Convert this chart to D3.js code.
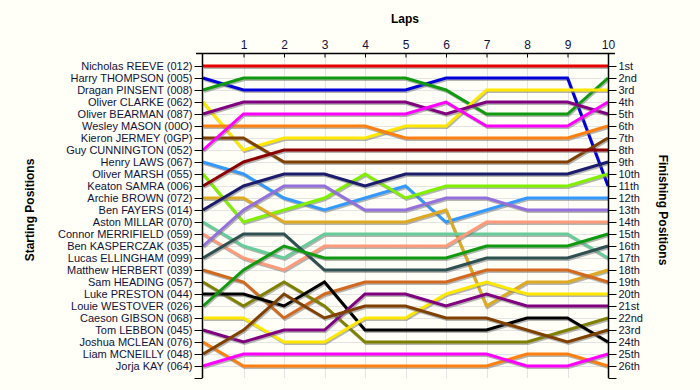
<!DOCTYPE html>
<html>
<head>
<meta charset="utf-8">
<script src="https://cdn.jsdelivr.net/npm/d3@7"></script>
<style>
  body { margin: 0; background: #fffff7; }
  svg { display: block; }
  text { font-family: "Liberation Sans", Arial, sans-serif; font-size: 11px; fill: #10103a; }
  .title { font-weight: bold; font-size: 12px; fill: #000; }
</style>
</head>
<body>
<svg id="chart" width="700" height="390"></svg>
<script>
// drivers in starting order
var drivers = ["Nicholas REEVE (012)", "Harry THOMPSON (005)", "Dragan PINSENT (008)", "Oliver CLARKE (062)",
  "Oliver BEARMAN (087)", "Wesley MASON (00O)", "Kieron JERMEY (0GP)", "Guy CUNNINGTON (052)",
  "Henry LAWS (067)", "Oliver MARSH (055)", "Keaton SAMRA (006)", "Archie BROWN (072)",
  "Ben FAYERS (014)", "Aston MILLAR (070)", "Connor MERRIFIELD (059)", "Ben KASPERCZAK (035)",
  "Lucas ELLINGHAM (099)", "Matthew HERBERT (039)", "Sam HEADING (057)", "Luke PRESTON (044)",
  "Louie WESTOVER (026)", "Caeson GIBSON (068)", "Tom LEBBON (045)", "Joshua MCLEAN (076)",
  "Liam MCNEILLY (048)", "Jorja KAY (064)"];

var lineColors = ["#e80000", "#0000d8", "#109a10", "#ffe800", "#800080", "#ff8010", "#804000", "#ff00ff",
  "#3399ff", "#80f000", "#8b0000", "#ddaa22", "#1c1c6c", "#66cc99", "#ff9a7a", "#9370db",
  "#2f5050", "#d2691e", "#808000", "#000000",
  "#109a10", "#ffe800", "#800080", "#ff8010", "#804000", "#ff00ff"];

var laps = [0, 1, 2, 3, 4, 5, 6, 7, 8, 9, 10];
var lapTicks = [1, 2, 3, 4, 5, 6, 7, 8, 9, 10];

// position of each driver after each lap (lap 0 = grid)
var positions = [
  [1, 1, 1, 1, 1, 1, 1, 1, 1, 1, 1],
  [2, 3, 3, 3, 3, 3, 2, 2, 2, 2, 11],
  [3, 2, 2, 2, 2, 2, 3, 5, 5, 5, 2],
  [4, 8, 7, 7, 7, 6, 6, 3, 3, 3, 3],
  [5, 4, 4, 4, 4, 4, 5, 4, 4, 4, 5],
  [6, 6, 6, 6, 6, 7, 7, 7, 7, 7, 6],
  [7, 7, 9, 9, 9, 9, 9, 9, 9, 9, 7],
  [8, 5, 5, 5, 5, 5, 4, 6, 6, 6, 4],
  [9, 10, 12, 13, 12, 11, 14, 13, 12, 12, 12],
  [10, 14, 13, 12, 10, 12, 11, 11, 11, 11, 10],
  [11, 9, 8, 8, 8, 8, 8, 8, 8, 8, 8],
  [12, 12, 14, 14, 14, 14, 13, 21, 19, 19, 18],
  [13, 11, 10, 10, 11, 10, 10, 10, 10, 10, 9],
  [14, 16, 17, 15, 15, 15, 15, 15, 15, 15, 17],
  [15, 17, 18, 16, 16, 16, 16, 14, 14, 14, 14],
  [16, 13, 11, 11, 13, 13, 12, 12, 13, 13, 13],
  [17, 15, 15, 18, 18, 18, 18, 17, 17, 17, 16],
  [18, 19, 22, 20, 19, 19, 19, 18, 18, 18, 19],
  [19, 21, 19, 21, 24, 24, 24, 24, 24, 23, 22],
  [20, 20, 21, 19, 23, 23, 23, 23, 22, 22, 24],
  [21, 18, 16, 17, 17, 17, 17, 16, 16, 16, 15],
  [22, 22, 24, 24, 22, 22, 20, 19, 20, 20, 20],
  [23, 24, 23, 23, 20, 20, 21, 20, 21, 21, 21],
  [24, 26, 26, 26, 26, 26, 26, 26, 25, 25, 26],
  [25, 23, 20, 22, 21, 21, 22, 22, 23, 24, 23],
  [26, 25, 25, 25, 25, 25, 25, 25, 26, 26, 25]
];

var finishLabels = ["1st", "2nd", "3rd", "4th", "5th", "6th", "7th", "8th", "9th", "10th", "11th", "12th", "13th",
  "14th", "15th", "16th", "17th", "18th", "19th", "20th", "21st", "22nd", "23rd", "24th", "25th", "26th"];

var svg = d3.select("#chart");
var plotLeft = 203, plotRight = 608, plotTop = 54;

var x = d3.scaleLinear().domain([0, 10]).range([plotLeft, plotRight]);
var y = d3.scaleLinear().domain([0, 27]).range([plotTop, plotTop + 27 * 12]);
var rows = d3.range(1, 27);

// grid
var grid = svg.append("g").attr("stroke", "#e4e4e4").attr("stroke-width", 1);
grid.selectAll("line.h").data(rows).enter().append("line")
  .attr("x1", plotLeft).attr("x2", plotRight)
  .attr("y1", function(d){ return Math.round(y(d)) + 0.5; })
  .attr("y2", function(d){ return Math.round(y(d)) + 0.5; });
grid.selectAll("line.v").data(lapTicks).enter().append("line")
  .attr("y1", plotTop).attr("y2", y(27))
  .attr("x1", function(d){ return Math.round(x(d)) + 0.5; })
  .attr("x2", function(d){ return Math.round(x(d)) + 0.5; });

// lines, shadow first
var line = d3.line()
  .x(function(d, i){ return x(laps[i]); })
  .y(function(d){ return y(d); });

var series = svg.append("g").attr("fill", "none").attr("stroke-linejoin", "miter");
positions.forEach(function(p, i) {
  series.append("path")
    .attr("d", line(p))
    .attr("transform", "translate(1,1.5)")
    .attr("stroke", "#777")
    .attr("stroke-opacity", 0.55)
    .attr("stroke-width", 3);
  series.append("path")
    .attr("d", line(p))
    .attr("stroke", lineColors[i])
    .attr("stroke-width", 3);
});

// axes
var topAxis = d3.axisTop(x).tickValues(lapTicks).tickSize(0).tickPadding(5).tickFormat(d3.format("d"));
var ta = svg.append("g").attr("transform", "translate(0," + (plotTop - 0.5) + ")").call(topAxis);
ta.select(".domain").remove();
ta.append("line").attr("x1", plotLeft - 7).attr("x2", plotRight + 7).attr("stroke", "#000").attr("stroke-width", 1.5);
ta.selectAll(".tick").append("line").attr("y1", 0).attr("y2", 4).attr("stroke", "#000");

var leftAxis = d3.axisLeft(y).tickValues(rows.concat([27]))
  .tickSize(8).tickPadding(2)
  .tickFormat(function(d){ return drivers[d - 1] || ""; });
var la = svg.append("g").attr("transform", "translate(" + (plotLeft - 0.5) + ",0)").call(leftAxis);
la.select(".domain").remove();
la.append("line").attr("y1", plotTop - 1).attr("y2", y(27)).attr("stroke", "#000").attr("stroke-width", 1.5);

var rightAxis = d3.axisRight(y).tickValues(rows.concat([27]))
  .tickSize(8).tickPadding(2)
  .tickFormat(function(d){ return finishLabels[d - 1] || ""; });
var ra = svg.append("g").attr("transform", "translate(" + (plotRight + 0.5) + ",0)").call(rightAxis);
ra.select(".domain").remove();
ra.append("line").attr("y1", plotTop - 1).attr("y2", y(27)).attr("stroke", "#000").attr("stroke-width", 1.5);

svg.selectAll(".tick text").style("font-family", "'Liberation Sans', Arial, sans-serif").style("font-size", "11px").attr("fill", "#10103a");
ta.selectAll(".tick text").style("font-size", "12px").attr("fill", "#000");
svg.selectAll(".tick line").attr("stroke", "#000");

// titles
svg.append("text").attr("class", "title").attr("x", 405).attr("y", 23)
  .attr("text-anchor", "middle").text("Laps");
svg.append("text").attr("class", "title")
  .attr("transform", "translate(34,210) rotate(-90)")
  .attr("text-anchor", "middle").text("Starting Positions");
svg.append("text").attr("class", "title")
  .attr("transform", "translate(659,210) rotate(90)")
  .attr("text-anchor", "middle").text("Finishing Positions");
</script>
</body>
</html>
